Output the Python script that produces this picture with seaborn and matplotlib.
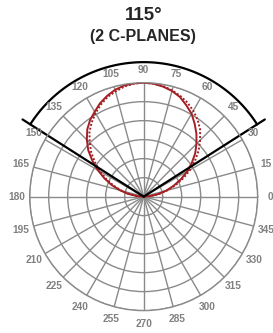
import numpy as np
import pandas as pd
import matplotlib
matplotlib.use("Agg")
import matplotlib.pyplot as plt
import seaborn as sns

# polar intensity, normalised to peak (angles in degrees, 90 = nadir drawn up)
angles_deg = [0, 5, 10, 15, 20, 25, 30, 35, 40, 45, 50, 55, 60, 65, 70, 75, 80, 85, 90,
              95, 100, 105, 110, 115, 120, 125, 130, 135, 140, 145, 150, 155, 160, 165, 170, 175, 180]
c0_plane = [0.0, 0.06, 0.13, 0.205, 0.28, 0.36, 0.44, 0.515, 0.59, 0.655, 0.72, 0.78, 0.84, 0.885, 0.93, 0.96, 0.98, 0.995, 1.0,
            0.997, 0.99, 0.97, 0.94, 0.905, 0.86, 0.82, 0.77, 0.705, 0.635, 0.55, 0.465, 0.38, 0.30, 0.215, 0.14, 0.06, 0.0]
c90_plane = [0.0, 0.065, 0.14, 0.22, 0.30, 0.385, 0.47, 0.55, 0.63, 0.70, 0.77, 0.825, 0.87, 0.91, 0.94, 0.965, 0.985, 0.995, 1.0,
             0.995, 0.98, 0.955, 0.93, 0.89, 0.845, 0.795, 0.74, 0.67, 0.60, 0.52, 0.44, 0.36, 0.28, 0.20, 0.13, 0.06, 0.0]
beam_angle = 115
tick_angles = [0, 15, 30, 45, 60, 75, 90, 105, 120, 135, 150, 165,
               180, 195, 210, 225, 240, 255, 270, 285, 300, 315, 330, 345]
ring_levels = [1 / 6, 2 / 6, 3 / 6, 4 / 6, 5 / 6, 1.0]

GRID = "#8a8a8a"
LABEL = "#808080"
RED = "#a31f24"

sns.set_style("white")
plt.rcParams["font.family"] = ["Liberation Sans", "DejaVu Sans"]

fig = plt.figure(figsize=(2.73, 3.33), dpi=100)
ax = fig.add_axes([0.1088, 0.067, 0.835, 0.685], projection="polar")

df = pd.DataFrame({
    "theta": np.deg2rad(angles_deg),
    "c0": c0_plane,
    "c90": c90_plane,
})
sns.lineplot(data=df, x="theta", y="c90", ax=ax, sort=False, color=RED, lw=1.4,
             linestyle=(0, (1, 1)))
sns.lineplot(data=df, x="theta", y="c0", ax=ax, sort=False, color=RED, lw=1.4)

# beam angle marker
half = beam_angle / 2
lo, hi = np.deg2rad(90 - half), np.deg2rad(90 + half)
arc = np.linspace(lo, hi, 100)
ax.plot(arc, np.full_like(arc, 1.18), color="black", lw=1.6, clip_on=False)
ax.plot([lo, 0], [1.26, 0], color="black", lw=1.6, clip_on=False)
ax.plot([hi, 0], [1.26, 0], color="black", lw=1.6, clip_on=False)

ax.set_ylim(0, 1)
ax.set_xticks(np.deg2rad(tick_angles))
ax.set_xticklabels([])
ax.set_yticks(ring_levels)
ax.set_yticklabels([])
ax.set_xlabel("")
ax.set_ylabel("")
ax.grid(True, color=GRID, lw=1)
ax.spines["polar"].set_color(GRID)
ax.spines["polar"].set_linewidth(1)

for a in tick_angles:
    ax.text(np.deg2rad(a), 1.115, str(a), ha="center", va="center",
            fontsize=7.3, fontweight="bold", color=LABEL, clip_on=False)

fig.text(0.525, 1 - 15 / 333, "115°", ha="center", va="center",
         fontsize=13.5, fontweight="bold")
fig.text(0.525, 1 - 36.5 / 333, "(2 C-PLANES)", ha="center", va="center",
         fontsize=11.5, fontweight="bold")

fig.savefig("out.png", dpi=100)
